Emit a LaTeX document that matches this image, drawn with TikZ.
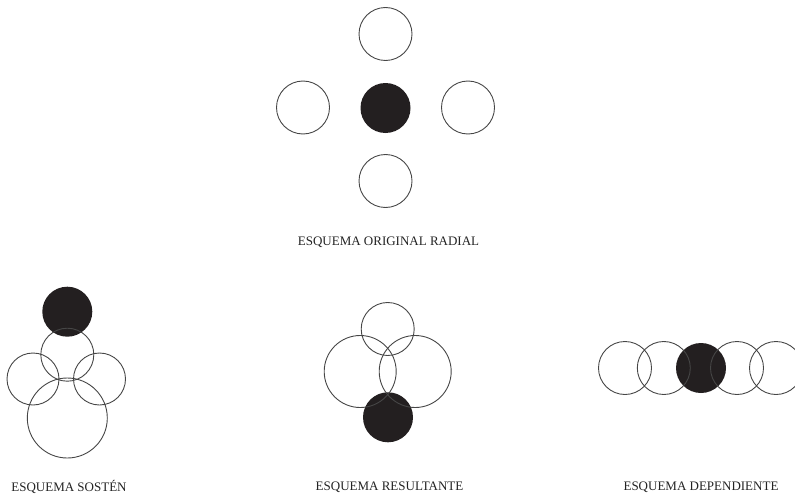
\documentclass[tikz,border=0pt]{standalone}
\usepackage{fontspec}
\setmainfont{Liberation Serif}
\usepackage{xcolor}
\usepackage{tikz}
\usetikzlibrary{positioning}
\definecolor{ringcol}{RGB}{70,70,70}
\definecolor{dotcol}{RGB}{35,31,32}
\definecolor{textcol}{RGB}{35,35,35}

\begin{document}
\begin{tikzpicture}[
  x=1pt, y=-1pt,
  ring/.style={circle, draw=ringcol, line width=0.9pt, inner sep=0pt, minimum size=#1},
  ring/.default=53pt,
  dot/.style={circle, fill=dotcol, inner sep=0pt, minimum size=#1},
  dot/.default=50pt,
  lbl/.style={text=textcol, font=\fontsize{13}{15}\selectfont, inner sep=0pt}
]
\useasboundingbox (0,0) rectangle (795,495);

% radial
\node[dot] (rc) at (385.5,108) {};
\node[ring] (rn) at (385.5,34) {};
\node[ring] (rw) at (303,107.5) {};
\node[ring] (re) at (468,107.5) {};
\node[ring] (rs) at (385.5,181) {};
\node[lbl] (rlab) at (388.5,242) {ESQUEMA ORIGINAL RADIAL};

% sosten
\node[dot] (sd) at (67.3,311.7) {};
\node[ring] (sm) at (67.3,354.7) {};
\node[ring=52pt] (sw) at (33,379) {};
\node[ring=52pt] (se) at (99.5,379) {};
\node[ring=80pt] (sb) at (67.3,418) {};
\node[lbl] (slab) at (69,487) {ESQUEMA SOSTÉN};

% resultante
\node[dot] (td) at (388,417.3) {};
\node[ring] (tn) at (387.7,329) {};
\node[ring=72pt] (tw) at (360.2,371.5) {};
\node[ring=72pt] (te) at (415.2,371.5) {};
\node[lbl] (tlab) at (389.5,487) {ESQUEMA RESULTANTE};

% dependiente
\node[dot] (dd) at (701,368) {};
\node[ring] (d1) at (625,368) {};
\node[ring] (d2) at (663.8,368) {};
\node[ring] (d4) at (737,368) {};
\node[ring] (d5) at (776,368) {};
\node[lbl] (dlab) at (701,487) {ESQUEMA DEPENDIENTE};
\end{tikzpicture}
\end{document}
